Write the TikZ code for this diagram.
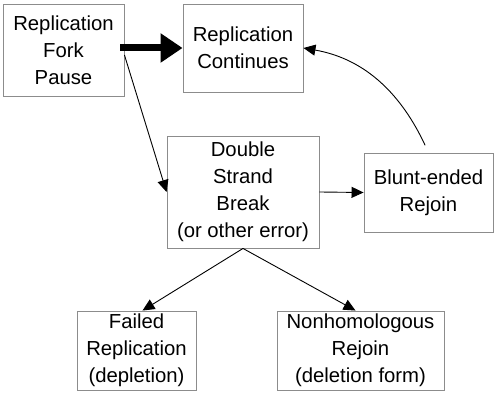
\documentclass[tikz,border=0pt]{standalone}
\usepackage{fontspec}
\setmainfont{Liberation Sans}
\usepackage{tikz}
\usetikzlibrary{arrows.meta,calc}
\definecolor{boxgray}{HTML}{8C8C8C}

\begin{document}
\begin{tikzpicture}[x=1pt,y=1pt,
    every node/.append style={font=\fontsize{20.3}{27}\selectfont, align=center},
    stage/.style={draw=boxgray, line width=.9pt, rectangle, inner sep=0pt},
    link/.style={line width=.9pt, -{Triangle[length=12pt,width=11pt]}},
    mainlink/.style={line width=7pt, -{Triangle[length=22pt,width=28pt]}}]
    \useasboundingbox (0,0) rectangle (498,404);
    \node[stage, minimum width=121pt, minimum height=92pt] (pause) at (63.5,354) {Replication\\Fork\\Pause};
    \node[stage, minimum width=120pt, minimum height=88pt] (cont) at (243,356) {Replication\\Continues};
    \node[stage, minimum width=152pt, minimum height=112pt] (dsb) at (243,212) {Double\\Strand\\Break\\(or other error)};
    \node[stage, minimum width=129pt, minimum height=79pt] (blunt) at (428.5,211.5) {Blunt-ended\\Rejoin};
    \node[stage, minimum width=119pt, minimum height=79pt] (failed) at (136.5,53.5) {Failed\\Replication\\(depletion)};
    \node[stage, minimum width=167pt, minimum height=79pt] (nonhom) at (360.5,53.5) {Nonhomologous\\Rejoin\\(deletion form)};
    \draw[mainlink] ([xshift=-4pt]pause.east |- cont.west) -- (cont.west);
    \draw[link] ([yshift=-5pt]pause.east) -- (dsb.west);
    \draw[link] (dsb.east) -- (blunt.west);
    \draw[link, shorten <=8pt] (blunt.north) to[out=115, in=-10] (cont.east);
    \draw[link] (dsb.south) -- ([xshift=6pt]failed.north);
    \draw[link] (dsb.south) -- ([xshift=-5pt]nonhom.north);
\end{tikzpicture}
\end{document}
